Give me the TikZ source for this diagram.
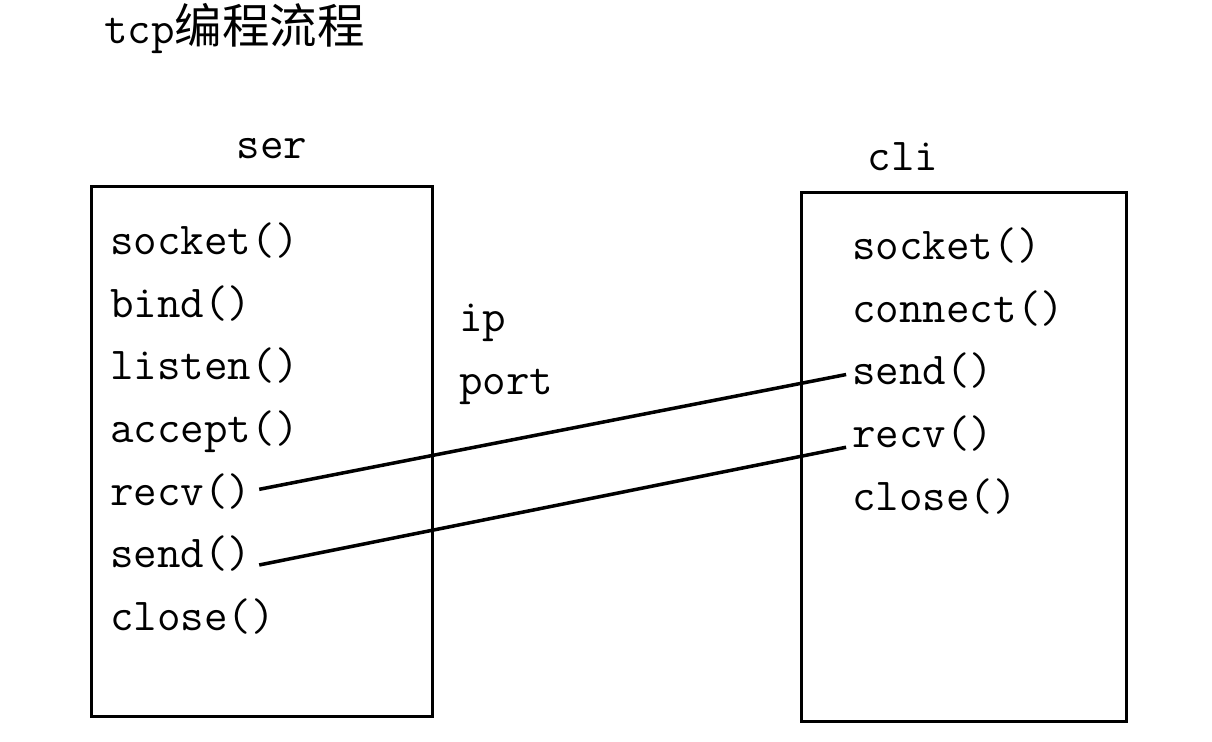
\documentclass[tikz,border=0pt]{standalone}
\usepackage{fontspec}
\newfontfamily\cjk{Noto Sans CJK SC}
\usetikzlibrary{positioning}
\tikzset {
  bigbox/.style = {draw, line width=1.9pt, rectangle},
  item/.style = {font=\ttfamily\fontsize{26}{28}\selectfont, inner sep=0, text height=0.75em, text depth=0.25em, minimum height=1.24cm},
  head/.style = {font=\ttfamily\fontsize{26}{28}\selectfont, inner sep=0},
  line/.style = {line width=2pt, color=black, shorten <=0.15cm, shorten >=0.12cm}
}

\begin{document}
\begin{tikzpicture}[x=0.02cm, y=-0.02cm]
    \useasboundingbox (0,0) rectangle (1212,742);

    \node[head, anchor=west] (title) at (104,29) {tcp{\cjk\fontsize{27}{29}\selectfont 编程流程}};

    % server side
    \node[bigbox, minimum width=6.82cm, minimum height=10.6cm, anchor=north west] (serbox) at (90,185) {};
    \node[head] (ser) at (272,149) {ser};
    \node[item, anchor=west] (lsocket) at (110,250) {socket()};
    \node[item, below=0cm of lsocket.south west, anchor=north west] (lbind) {bind()};
    \node[item, below=0cm of lbind.south west, anchor=north west] (llisten) {listen()};
    \node[item, below=0cm of llisten.south west, anchor=north west] (laccept) {accept()};
    \node[item, below=0cm of laccept.south west, anchor=north west] (lrecv) {recv()};
    \node[item, below=0cm of lrecv.south west, anchor=north west] (lsend) {send()};
    \node[item, below=0cm of lsend.south west, anchor=north west] (lclose) {close()};

    % address
    \node[item, anchor=west] (ip) at (459,327) {ip};
    \node[item, below=0cm of ip.south west, anchor=north west] (port) {port};

    % client side
    \node[bigbox, minimum width=6.5cm, minimum height=10.58cm, anchor=north west] (clibox) at (800,191) {};
    \node[head] (cli) at (903,157) {cli};
    \node[item, anchor=west] (rsocket) at (852,255) {socket()};
    \node[item, below=0cm of rsocket.south west, anchor=north west] (rconnect) {connect()};
    \node[item, below=0cm of rconnect.south west, anchor=north west] (rsend) {send()};
    \node[item, below=0cm of rsend.south west, anchor=north west] (rrecv) {recv()};
    \node[item, below=0cm of rrecv.south west, anchor=north west] (rclose) {close()};

    \draw[line] ([yshift=0.2cm]lrecv.east) -- ([yshift=0.14cm]rsend.west);
    \draw[line] ([yshift=-0.06cm]lsend.east) -- ([yshift=-0.06cm]rrecv.west);

\end{tikzpicture}
\end{document}
